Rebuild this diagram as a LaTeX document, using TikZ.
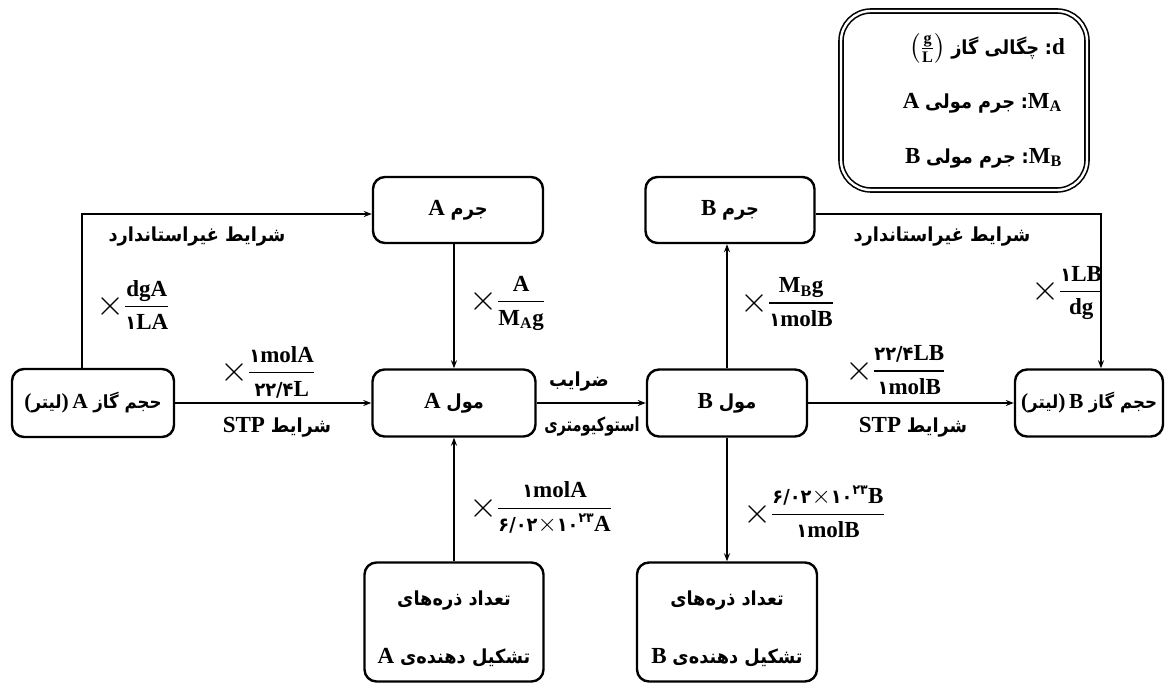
\documentclass[tikz,border=0pt]{standalone}
\usepackage{amsmath}
\usepackage{graphicx}
\usepackage{fontspec}
\setmainfont{Liberation Serif}
\newfontfamily\fa[Script=Arabic,Scale=0.84,FakeStretch=0.92]{DejaVu Sans}
\TeXXeTstate=1
\usetikzlibrary{arrows.meta}
\newcommand\ar[1]{{\fa #1}}
\newcommand\bigx{\raisebox{-2.8pt}{\scalebox{1.45}{$\times$}}}
\newcommand\fr[2]{\bigx$\genfrac{}{}{1.3pt}{0}{\text{#1}}{\text{#2}}$}
\newcommand\sub[1]{\textsubscript{#1}}
\begin{document}
\begin{tikzpicture}[x=1pt,y=-1pt,
  every node/.style={font=\bfseries\fontsize{23}{27}\selectfont, inner sep=0pt},
  box/.style={draw, line width=2.4pt, rounded corners=12pt, align=center},
  gasfont/.style={font=\bfseries\fontsize{21.5}{25}\selectfont},
  legendbox/.style={draw, line width=1.6pt, double=white, double distance=2.4pt, rounded corners=30pt},
  arr/.style={line width=1.5pt, -{Stealth[length=8pt,width=6pt]}},
  lab/.style={anchor=west},
]
\useasboundingbox (0,0) rectangle (1171,684);

% boxes
\node[box, gasfont, minimum width=162, minimum height=68] (gasA) at (93,403) {\beginR\ar{حجم گاز} A\,)\ar{لیتر}(\endR};
\node[box, minimum width=170, minimum height=66] (massA) at (458,210) {\beginR\ar{جرم} A\endR};
\node[box, minimum width=163, minimum height=67] (molA) at (454,403) {\beginR\ar{مول} A\endR};
\node[box, minimum width=160, minimum height=67] (molB) at (727,403) {\beginR\ar{مول} B\endR};
\node[box, minimum width=169, minimum height=66] (massB) at (730,210) {\beginR\ar{جرم} B\endR};
\node[box, gasfont, minimum width=148, minimum height=67] (gasB) at (1089,403) {\beginR\ar{حجم گاز} B\,)\ar{لیتر}(\endR};
\node[box, minimum width=179, minimum height=119] (partA) at (454,622) {\rule{0pt}{29pt}\beginR\ar{تعداد ذره‌های}\endR\\[31pt]\beginR\ar{تشکیل دهنده‌ی} A\endR};
\node[box, minimum width=180, minimum height=119] (partB) at (727,622) {\rule{0pt}{29pt}\beginR\ar{تعداد ذره‌های}\endR\\[31pt]\beginR\ar{تشکیل دهنده‌ی} B\endR};

% legend
\node[legendbox, minimum width=246, minimum height=179] (leg) at (964,100.5) {};
\node[anchor=east] (leg1) at (1065,48) {\mbox{$\bigl(\genfrac{}{}{0.8pt}{1}{\text{g}}{\text{L}}\bigr)$}~\beginR\ar{چگالی گاز}\endR~\ar{:}d};
\node[anchor=east] (leg2) at (1062,103) {A~\beginR\ar{جرم مولی}\endR~\ar{:}M\sub{A}};
\node[anchor=east] (leg3) at (1062,158) {B~\beginR\ar{جرم مولی}\endR~\ar{:}M\sub{B}};

% connectors
\draw[arr] ([xshift=-11pt]gasA.north) |- ([yshift=-4pt]massA.west);
\draw[arr] (gasA) -- (molA);
\draw[arr] (massA.south -| molA.north) -- (molA.north);
\draw[arr] (molA) -- (molB);
\draw[arr] (molB.north) -- (massB.south -| molB.north);
\draw[arr] ([yshift=-4pt]massB.east) -| ([xshift=12pt]gasB.north);
\draw[arr] (molB) -- (gasB);
\draw[arr] (partA.north -| molA.south) -- (molA.south);
\draw[arr] (molB.south) -- (partB.north -| molB.south);

% labels
\node (nsA) at (197,237) {\beginR\ar{شرایط غیراستاندارد}\endR};
\node (nsB) at (942,237) {\beginR\ar{شرایط غیراستاندارد}\endR};
\node (stpA) at (277,427) {\beginR\ar{شرایط} STP\endR};
\node (stpB) at (913,427) {\beginR\ar{شرایط} STP\endR};
\node (st1) at (579,382) {\ar{ضرایب}};
\node (st2) at (592,427) {\scalebox{0.82}[1]{\ar{استوکیومتری}}};

\node[lab] (fA1) at (96,305) {\fr{dgA}{\ar{۱}LA}};
\node[lab] (fA2) at (220,372) {\fr{\ar{۱}molA}{\ar{۲۲/۴}L}};
\node[lab] (fM1) at (469,303) {\fr{A}{M\sub{A}g}};
\node[lab] (fM2) at (740,302) {\fr{M\sub{B}g}{\ar{۱}molB}};
\node[lab] (fB1) at (1031,293) {\fr{\ar{۱}LB}{dg}};
\node[lab] (fB2) at (845,370) {\fr{\ar{۲۲/۴}LB}{\ar{۱}molB}};
\node[lab] (fP1) at (469,508) {\fr{\ar{۱}molA}{\ar{۶/۰۲}$\times$\ar{۱۰}\textsuperscript{\ar{۲۳}}A}};
\node[lab] (fP2) at (743,512) {\fr{\ar{۶/۰۲}$\times$\ar{۱۰}\textsuperscript{\ar{۲۳}}B}{\ar{۱}molB}};
\end{tikzpicture}
\end{document}
